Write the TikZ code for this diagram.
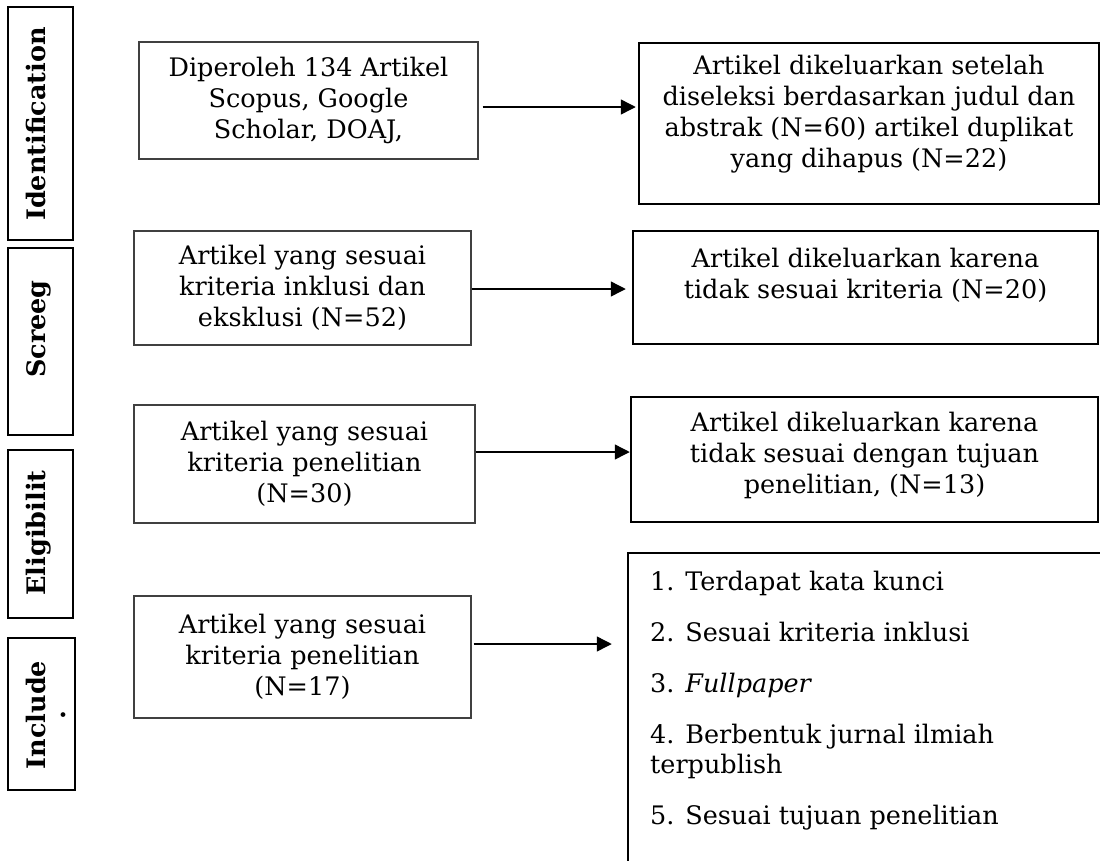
\documentclass[tikz,border=0pt]{standalone}
\usepackage{fontspec}
\setmainfont{DejaVu Serif}
\usetikzlibrary{arrows.meta}
\begin{document}
\begin{tikzpicture}[x=1pt,y=-1pt,
  txt/.style={font=\fontsize{25.5}{31}\selectfont, align=center, inner sep=0pt},
  lbox/.style={draw=black!75, line width=1.3pt, inner sep=0pt, txt},
  rbox/.style={draw=black, line width=2.5pt, inner sep=0pt},
  sidebox/.style={draw=black, line width=2.3pt, inner sep=0pt},
  sidetxt/.style={rotate=90, inner sep=0pt, align=center, font=\bfseries\fontsize{25.5}{20}\selectfont},
  arr/.style={line width=1.4pt, -{Triangle[length=15pt,width=15pt]}}]
\clip (0,0) rectangle (1100,860);

% side labels
\node[sidebox, minimum width=65pt, minimum height=233pt] (s1) at (40.5,123.5) {};
\node[sidetxt] (s1t) at (36,124) {Identification};
\node[sidebox, minimum width=65pt, minimum height=187pt] (s2) at (40.5,341.5) {};
\node[sidetxt] (s2t) at (39,329) {Screeg};
\node[sidebox, minimum width=65pt, minimum height=168pt] (s3) at (40.5,534) {};
\node[sidetxt] (s3t) at (39,533) {Eligibilit};
\node[sidebox, minimum width=67pt, minimum height=152pt] (s4) at (41.5,714) {};
\node[sidetxt] (s4t) at (46,715) {Include\\.};

% left column
\node[lbox, minimum width=339pt, minimum height=117pt] (b1) at (308.5,100.5)
  {Diperoleh 134 Artikel\\Scopus, Google\\Scholar, DOAJ,};
\node[lbox, minimum width=337pt, minimum height=114pt] (b2) at (302.5,288)
  {Artikel yang sesuai\\kriteria inklusi dan\\eksklusi (N=52)};
\node[lbox, minimum width=341pt, minimum height=118pt] (b3) at (304.5,464)
  {Artikel yang sesuai\\kriteria penelitian\\(N=30)};
\node[lbox, minimum width=337pt, minimum height=122pt] (b4) at (302.5,657)
  {Artikel yang sesuai\\kriteria penelitian\\(N=17)};

% right column
\node[rbox, minimum width=460pt, minimum height=161pt] (r1) at (869,123.5) {};
\node[txt, anchor=north] (r1t) at ([yshift=-13pt]r1.north)
  {Artikel dikeluarkan setelah\\diseleksi berdasarkan judul dan\\abstrak (N=60) artikel duplikat\\yang dihapus (N=22)};
\node[rbox, minimum width=465pt, minimum height=113pt] (r2) at (865.5,287.5) {};
\node[txt, anchor=north] (r2t) at ([yshift=-18pt]r2.north)
  {Artikel dikeluarkan karena\\tidak sesuai kriteria (N=20)};
\node[rbox, minimum width=467pt, minimum height=125pt] (r3) at (864.5,459.5) {};
\node[txt, anchor=north] (r3t) at ([yshift=-16pt]r3.north)
  {Artikel dikeluarkan karena\\tidak sesuai dengan tujuan\\penelitian, (N=13)};
\node[rbox, minimum width=500pt, minimum height=360pt] (r4) at (878,733) {};
\node[txt, font=\fontsize{25.5}{30}\selectfont, align=left, anchor=north west] (r4t) at (650,571)
  {1. Terdapat kata kunci\\[21pt]
   2. Sesuai kriteria inklusi\\[21pt]
   3. \textit{Fullpaper}\\[21pt]
   4. Berbentuk jurnal ilmiah\\
   terpublish\\[21pt]
   5. Sesuai tujuan penelitian};

% connectors
\coordinate (y1) at (0,107);
\coordinate (y2) at (0,289);
\coordinate (y3) at (0,452);
\coordinate (y4) at (0,644);
\draw[arr, shorten <=4pt, shorten >=2pt] (b1.east |- y1) -- (r1.west |- y1);
\draw[arr, shorten >=6pt] (b2.east |- y2) -- (r2.west |- y2);
\draw[arr] (b3.east |- y3) -- (r3.west |- y3);
\draw[arr, shorten <=2pt, shorten >=15pt] (b4.east |- y4) -- (r4.west |- y4);
\end{tikzpicture}
\end{document}
